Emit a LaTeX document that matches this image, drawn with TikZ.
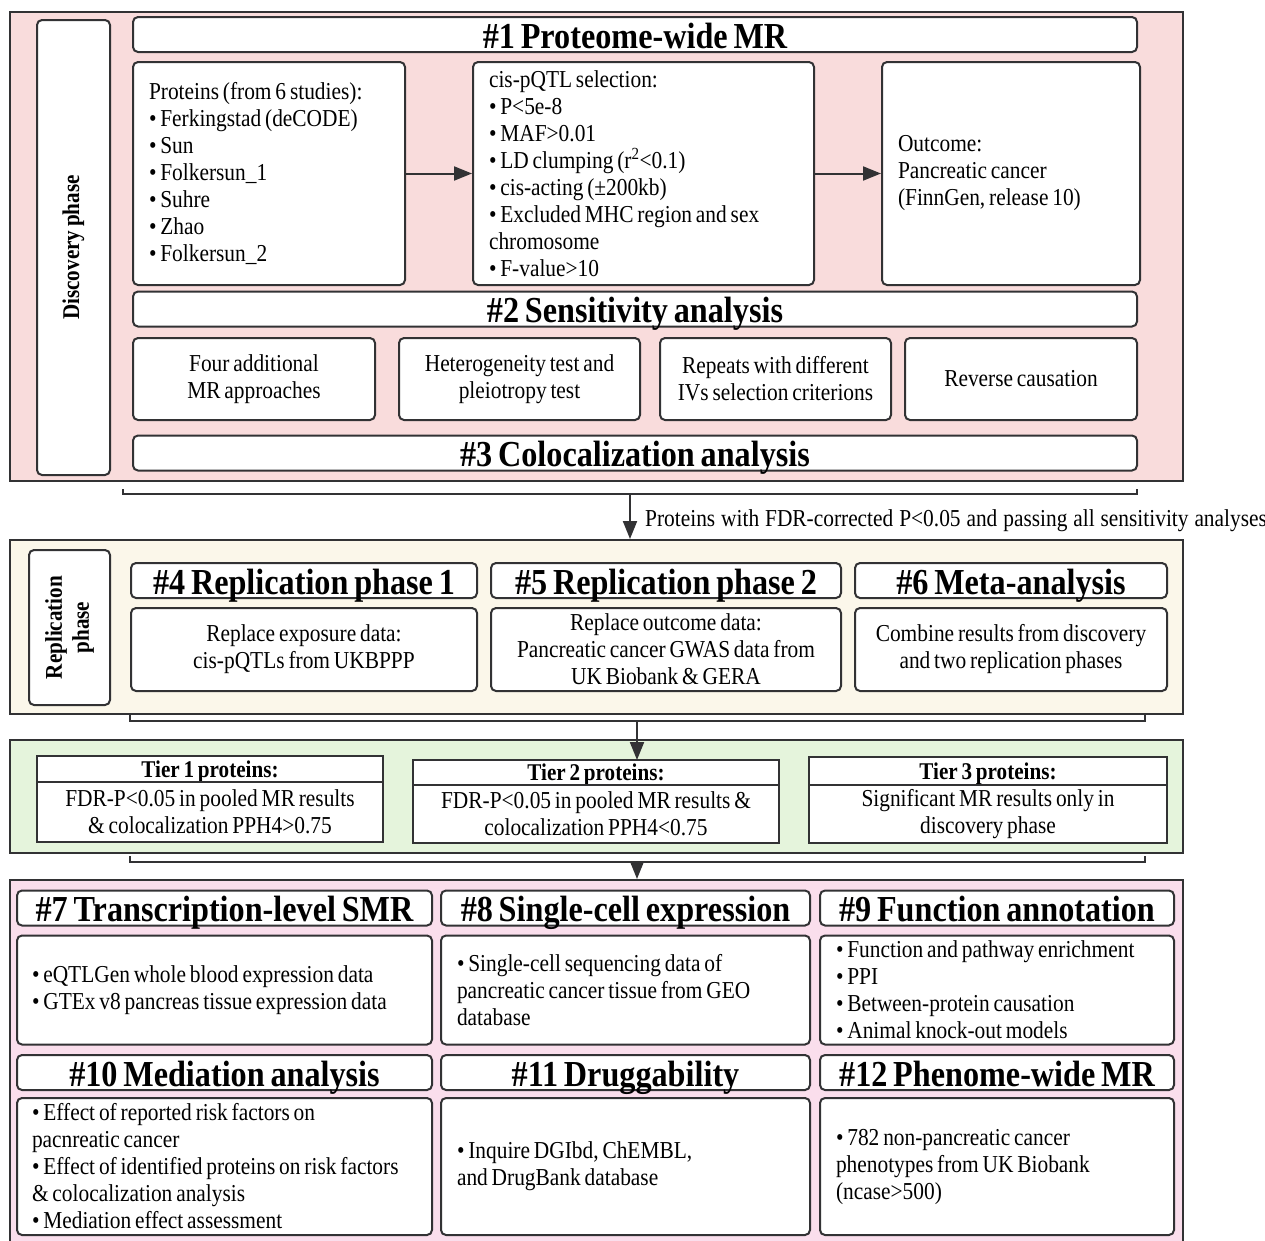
\documentclass[tikz,border=0pt]{standalone}
\usepackage{fontspec}
\setmainfont{Liberation Serif}[FakeStretch=0.88,WordSpace=0.72]
\usetikzlibrary{positioning,arrows.meta}

\definecolor{discpink}{RGB}{249,220,220}
\definecolor{repcream}{RGB}{251,247,234}
\definecolor{tiergreen}{RGB}{229,244,220}
\definecolor{downpink}{RGB}{250,222,236}
\definecolor{edge}{RGB}{50,50,52}

\newcommand{\bodyfont}{\fontsize{24.3}{27}\selectfont\hyphenpenalty=10000}
\newcommand{\headfont}{\fontsize{36.6}{40}\selectfont\bfseries}
\newcommand{\tierfont}{\fontsize{24}{27}\selectfont\bfseries}

\begin{document}
\begin{tikzpicture}[x=1pt,y=-1pt,
  sec/.style={draw=edge,line width=2pt,inner sep=0pt},
  box/.style={draw=edge,line width=2pt,rounded corners=5pt,fill=white,inner sep=0pt,font=\bodyfont,align=center},
  lbox/.style={box,align=flush left,inner xsep=16pt},
  head/.style={box,font=\headfont,text height=31pt,text depth=4pt},
  lab/.style={box,rotate=90,font=\tierfont,align=center},
  tierhead/.style={draw=edge,line width=2pt,fill=white,inner sep=0pt,outer sep=0pt,font=\tierfont,text height=20pt,text depth=4pt},
  tierbody/.style={draw=edge,line width=2pt,fill=white,inner sep=0pt,outer sep=0pt,font=\bodyfont,align=center},
  arr/.style={draw=edge,line width=2pt,-{Triangle[length=18pt,width=14pt]}},
  brk/.style={draw=edge,line width=2pt}]
  \useasboundingbox (0,0) rectangle (1265,1240);
  % discovery phase
  \node[sec,fill=discpink,minimum width=1173,minimum height=469] at(596.5,246.5)(disc){};
  \node[lab,minimum width=455,minimum height=73] at(73.5,247.5)(disclab){Discovery phase};
  \node[head,minimum width=1004,minimum height=35] at(635,34.5)(t1){\#1 Proteome-wide MR};
  \node[lbox,text width=240,minimum height=223] at(269,173.5)(prot){Proteins (from 6 studies):\\
    • Ferkingstad (deCODE)\\ • Sun\\ • Folkersun\_1\\ • Suhre\\ • Zhao\\ • Folkersun\_2};
  \node[lbox,text width=309,minimum height=223] at(643.5,173.5)(cis){cis-pQTL selection:\\
    • P<5e-8\\ • MAF>0.01\\ • LD clumping (r\textsuperscript{2}<0.1)\\ • cis-acting (±200kb)\\
    • Excluded MHC region and sex\\ chromosome\\ • F-value>10};
  \node[lbox,text width=226,minimum height=223] at(1011,173.5)(outc){Outcome:\\
    Pancreatic cancer\\ (FinnGen, release 10)};
  \draw[arr] (prot) -- (cis);
  \draw[arr] (cis) -- (outc);
  \node[head,minimum width=1004,minimum height=34] at(635,309)(t2){\#2 Sensitivity analysis};
  \node[box,minimum width=242,minimum height=82] at(254,379)(s1){Four additional\\ MR approaches};
  \node[box,minimum width=241,minimum height=82] at(519.5,379)(s2){Heterogeneity test and\\ pleiotropy test};
  \node[box,minimum width=231,minimum height=82] at(775.5,379)(s3){Repeats with different\\ IVs selection criterions};
  \node[box,minimum width=232,minimum height=82] at(1021,379)(s4){Reverse causation};
  \node[head,minimum width=1004,minimum height=34] at(635,453)(t3){\#3 Colocalization analysis};
  % first bracket
  \coordinate (b1l) at(123,489);
  \coordinate (b1r) at(1137,489);
  \coordinate (b1m) at(630,494);
  \draw[brk] (b1l) -- ++(0,5) -| (b1r);
  % replication phase
  \node[sec,fill=repcream,minimum width=1173,minimum height=174] at(596.5,627)(rep){};
  \draw[arr] (b1m) -- (b1m |- rep.north);
  \node[font={\bodyfont\spaceskip=5.9pt},anchor=west,inner sep=0pt] at(645,521)(flt){Proteins with FDR-corrected P<0.05 and passing all sensitivity analyses};
  \node[lab,minimum width=155,minimum height=81] at(69.5,627.5)(replab){Replication\\ phase};
  \node[head,minimum width=346,minimum height=35] at(304,580.5)(t4){\#4 Replication phase 1};
  \node[head,minimum width=350,minimum height=35] at(666,580.5)(t5){\#5 Replication phase 2};
  \node[head,minimum width=312,minimum height=35] at(1011,580.5)(t6){\#6 Meta-analysis};
  \node[box,minimum width=346,minimum height=83] at(304,649.5)(r4){Replace exposure data:\\ cis-pQTLs from UKBPPP};
  \node[box,minimum width=350,minimum height=83] at(666,649.5)(r5){Replace outcome data:\\ Pancreatic cancer GWAS data from\\ UK Biobank \& GERA};
  \node[box,minimum width=312,minimum height=83] at(1011,649.5)(r6){Combine results from discovery\\ and two replication phases};
  % second bracket
  \coordinate (b2l) at(130,715);
  \coordinate (b2r) at(1145,715);
  \coordinate (b2m) at(637,721);
  \draw[brk] (b2l) -- ++(0,6) -| (b2r);
  % tiers
  \node[sec,fill=tiergreen,minimum width=1173,minimum height=113] at(596.5,796.5)(tier){};
  \node[tierhead,minimum width=346,minimum height=26] at(210,769)(tr1h){Tier 1 proteins:};
  \node[tierbody,minimum width=346,minimum height=60,below=0pt of tr1h](tr1){FDR-P<0.05 in pooled MR results\\ \& colocalization PPH4>0.75};
  \node[tierhead,minimum width=366,minimum height=25] at(596,772.5)(tr2h){Tier 2 proteins:};
  \node[tierbody,minimum width=366,minimum height=58,below=0pt of tr2h](tr2){FDR-P<0.05 in pooled MR results \&\\ colocalization PPH4<0.75};
  \node[tierhead,minimum width=358,minimum height=28] at(988,771)(tr3h){Tier 3 proteins:};
  \node[tierbody,minimum width=358,minimum height=58,below=0pt of tr3h](tr3){Significant MR results only in\\ discovery phase};
  \draw[arr] (b2m) -- (b2m |- tr2h.north);
  % third bracket
  \coordinate (b3l) at(130,856);
  \coordinate (b3r) at(1145,856);
  \coordinate (b3m) at(637,862);
  \draw[brk] (b3l) -- ++(0,6) -| (b3r);
  % follow-up analyses
  \node[sec,fill=downpink,minimum width=1173,minimum height=370] at(596.5,1065)(down){};
  \draw[arr] (b3m) -- (b3m |- down.north);
  \node[head,minimum width=415,minimum height=34] at(224.5,908)(t7){\#7 Transcription-level SMR};
  \node[head,minimum width=369,minimum height=34] at(625.5,908)(t8){\#8 Single-cell expression};
  \node[head,minimum width=354,minimum height=34] at(997,908)(t9){\#9 Function annotation};
  \node[lbox,inner xsep=15pt,text width=385,minimum height=109] at(224.5,990)(c7){• eQTLGen whole blood expression data\\
    • GTEx v8 pancreas tissue expression data};
  \node[lbox,text width=337,minimum height=109] at(625.5,990)(c8){• Single-cell sequencing data of\\
    pancreatic cancer tissue from GEO\\ database};
  \node[lbox,text width=322,minimum height=109] at(997,990)(c9){• Function and pathway enrichment\\
    • PPI\\ • Between-protein causation\\ • Animal knock-out models};
  \node[head,minimum width=415,minimum height=35] at(224.5,1072.5)(t10){\#10 Mediation analysis};
  \node[head,minimum width=369,minimum height=35] at(625.5,1072.5)(t11){\#11 Druggability};
  \node[head,minimum width=354,minimum height=35] at(997,1072.5)(t12){\#12 Phenome-wide MR};
  \node[lbox,inner xsep=15pt,text width=385,minimum height=137] at(224.5,1166.5)(c10){• Effect of reported risk factors on\\
    pacnreatic cancer\\ • Effect of identified proteins on risk factors\\ \& colocalization analysis\\
    • Mediation effect assessment};
  \node[lbox,text width=337,minimum height=137] at(625.5,1166.5)(c11){• Inquire DGIbd, ChEMBL,\\
    and DrugBank database};
  \node[lbox,text width=322,minimum height=137] at(997,1166.5)(c12){• 782 non-pancreatic cancer\\
    phenotypes from UK Biobank\\ (ncase>500)};
\end{tikzpicture}
\end{document}
